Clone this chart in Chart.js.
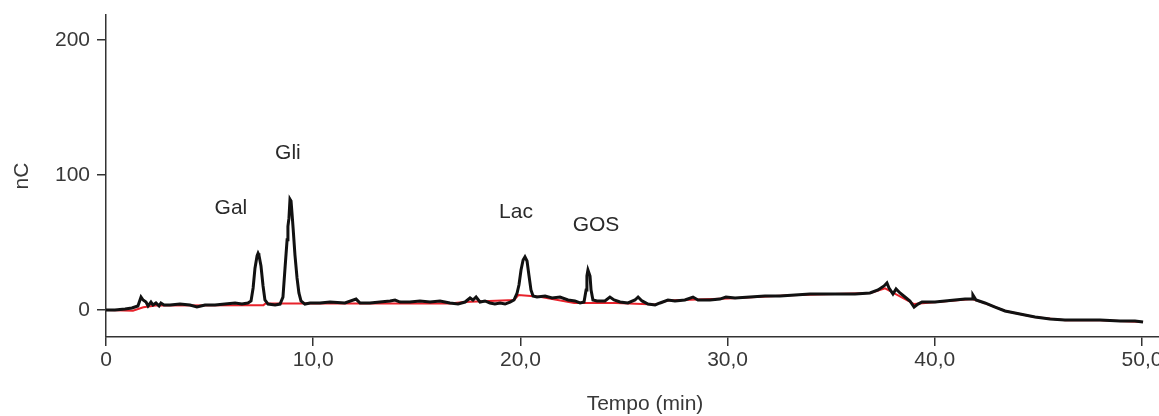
<!DOCTYPE html>
<html>
<head>
<meta charset="utf-8">
<script src="https://cdn.jsdelivr.net/npm/chart.js@4/dist/chart.umd.min.js"></script>
<style>
  html, body { margin: 0; padding: 0; background: #ffffff; }
  #wrap { width: 1159px; height: 416px; }
</style>
</head>
<body>
<div id="wrap"><canvas id="c" width="1159" height="416"></canvas></div>
<script>
// ---- Data ----
const traceTimes = [0,0.43,0.92,1.25,1.54,1.69,1.79,1.93,2.03,2.17,2.27,2.41,2.56,2.65,2.80,3.09,3.57,4.05,4.39,4.78,5.26,5.74,6.23,6.56,6.85,
  7.00,7.10,7.19,7.29,7.34,7.38,7.48,7.58,7.67,7.82,8.16,8.40,8.54,8.64,8.74,8.78,8.83,8.88,8.93,8.98,9.03,9.12,9.22,9.31,9.41,9.60,9.85,
  10.33,10.81,11.53,12.07,12.26,12.74,13.22,13.71,13.95,14.19,14.67,15.15,15.64,16.12,16.60,16.99,17.33,17.57,17.71,17.86,18.05,18.29,18.53,18.77,
  19.02,19.26,19.50,19.69,19.84,19.93,20.03,20.13,20.22,20.32,20.41,20.51,20.61,20.80,21.19,21.53,21.91,22.30,22.63,22.88,23.07,23.17,23.21,23.26,
  23.36,23.41,23.50,23.70,24.08,24.32,24.52,24.81,25.19,25.53,25.68,25.87,26.16,26.50,26.74,27.12,27.46,27.94,28.33,28.57,29.15,29.63,29.92,30.36,
  31.08,31.80,32.53,33.25,33.98,34.70,35.42,36.15,36.87,37.26,37.55,37.69,37.79,37.98,38.13,38.32,38.56,38.80,39.00,39.19,39.38,39.62,40.01,40.49,
  40.97,41.46,41.80,41.84,41.99,42.42,42.91,43.39,43.87,44.35,44.84,45.56,46.28,47.01,47.97,48.94,49.66,50.05];
const traceValues = [0,0,0.7,1.5,3.0,9.6,7.4,5.9,3.0,5.9,3.7,5.2,3.0,5.2,3.7,3.7,4.4,3.7,2.2,3.7,3.7,4.4,5.2,4.4,5.2,
  6.7,16.3,31,40,42,40.7,32.6,17.8,7.4,4.4,3.7,4.4,9.6,31,52,62,68,82,80.7,71,60.7,40.7,23.7,12.6,6.7,4.4,5.2,
  5.2,5.9,5.2,8.1,5.2,5.2,5.9,6.7,7.4,5.9,5.9,6.7,5.9,6.7,5.2,4.4,5.9,8.9,7.4,9.6,5.9,6.7,5.2,4.4,
  5.2,4.4,5.9,7.4,12.6,18.5,29.6,37,39.3,36.3,25.9,14.8,10.4,9.6,10.4,8.9,9.6,7.4,6.7,5.2,5.9,14.8,25.2,29.6,
  25.2,14.8,7.4,6.7,6.7,9.6,7.4,5.9,5.2,7.4,9.6,6.7,4.4,3.7,5.2,7.4,6.7,7.4,9.6,7.4,7.4,8.1,9.6,8.9,
  9.6,10.4,10.4,11.1,11.9,11.9,11.9,11.9,12.6,14.8,17.8,20,16.3,11.9,15.6,12.6,9.6,6.7,2.2,4.4,5.9,5.9,5.9,6.7,
  7.4,8.1,8.1,11.1,7.4,5.2,2.2,-0.7,-2.2,-3.7,-5.2,-6.7,-7.4,-7.4,-7.4,-8.1,-8.1,-8.9];

const baseTimes  = [0,1.3,1.8,2.4,6.9,7.6,7.7,10,16.6,17.3,19.7,19.9,20.5,21.0,22.6,24.6,26.5,27.1,30.0,33.0,36.9,37.6,39.0,41.8,42.4,43.4,44.8,46.3,48.0,50.05];
const baseValues = [0,-0.5,2,3.3,3.6,3.6,4.8,4.8,4.8,5.9,7.4,11.1,10.4,9.6,5.2,5.2,4.0,7.0,8.6,11.0,12.6,16,4.4,8.1,5.2,-0.7,-5.2,-7.6,-7.6,-8.9];

const xTickValues = [0,10,20,30,40,50];
const xTickLabels = ['0','10,0','20,0','30,0','40,0','50,0'];
const yTickValues = [0,100,200];
const yTickLabels = ['0','100','200'];

const peakNames  = ['Gal','Gli','Lac','GOS'];
const peakTimes  = [6.03,8.78,19.79,23.65];
const peakValues = [75.6,116,72.6,63];

const xTitle = 'Tempo (min)';
const yTitle = 'nC';

// ---- Chart ----
const FONT = "'Liberation Sans', Arial, Helvetica, sans-serif";
const TXT = '#383838';

const toXY = (xs, ys) => xs.map((x, i) => ({x: x, y: ys[i]}));

const textLayer = {
  id: 'textLayer',
  afterDatasetsDraw(chart) {
    const {ctx, scales} = chart;
    ctx.save();
    ctx.font = '21px ' + FONT;
    ctx.fillStyle = '#2a2a2a';
    ctx.textAlign = 'center';
    ctx.textBaseline = 'middle';
    peakNames.forEach((n, i) => {
      ctx.fillText(n, scales.x.getPixelForValue(peakTimes[i]), scales.y.getPixelForValue(peakValues[i]));
    });
    // x-axis title, placed as in the reference (slightly right of centre)
    ctx.fillStyle = TXT;
    ctx.fillText(xTitle, 645, 404);
    ctx.restore();
  }
};

new Chart(document.getElementById('c'), {
  type: 'line',
  data: {
    datasets: [
      {
        label: 'Segnale',
        data: toXY(traceTimes, traceValues),
        borderColor: '#111111',
        borderWidth: 3,
        pointRadius: 0,
        tension: 0,
        order: 0
      },
      {
        label: 'Linea di base',
        data: toXY(baseTimes, baseValues),
        borderColor: '#e8222b',
        borderWidth: 2,
        pointRadius: 0,
        tension: 0,
        order: 1
      }
    ]
  },
  options: {
    responsive: false,
    animation: false,
    devicePixelRatio: 1,
    layout: { padding: { left: 0, right: 0, top: 15, bottom: 0 } },
    plugins: { legend: { display: false }, tooltip: { enabled: false } },
    scales: {
      x: {
        type: 'linear',
        min: 0,
        max: 50.82,
        afterBuildTicks: s => { s.ticks = xTickValues.map(v => ({value: v})); },
        afterFit: s => { s.height = 79; s.paddingLeft = 0; s.paddingRight = 0; },
        ticks: {
          color: TXT,
          font: { family: FONT, size: 21 },
          padding: 2,
          maxRotation: 0,
          autoSkip: false,
          callback: (v) => { const i = xTickValues.indexOf(v); return i >= 0 ? xTickLabels[i] : ''; }
        },
        grid: { drawOnChartArea: false, drawTicks: true, tickLength: 9, color: '#333333', lineWidth: 1.5 },
        border: { display: true, color: '#333333', width: 1.5 },
        title: { display: false }
      },
      y: {
        type: 'linear',
        min: -20,
        max: 218.5,
        afterBuildTicks: s => { s.ticks = yTickValues.map(v => ({value: v})); },
        afterFit: s => { s.width = 106; s.paddingTop = 0; s.paddingBottom = 0; },
        ticks: {
          color: TXT,
          font: { family: FONT, size: 21 },
          padding: 7,
          autoSkip: false,
          callback: (v) => { const i = yTickValues.indexOf(v); return i >= 0 ? yTickLabels[i] : ''; }
        },
        grid: { drawOnChartArea: false, drawTicks: true, tickLength: 9, color: '#333333', lineWidth: 1.5 },
        border: { display: true, color: '#333333', width: 1.5 },
        title: { display: true, text: yTitle, color: TXT, font: { family: FONT, size: 21 }, padding: { top: 10, bottom: 0 } }
      }
    }
  },
  plugins: [textLayer]
});
</script>
</body>
</html>
